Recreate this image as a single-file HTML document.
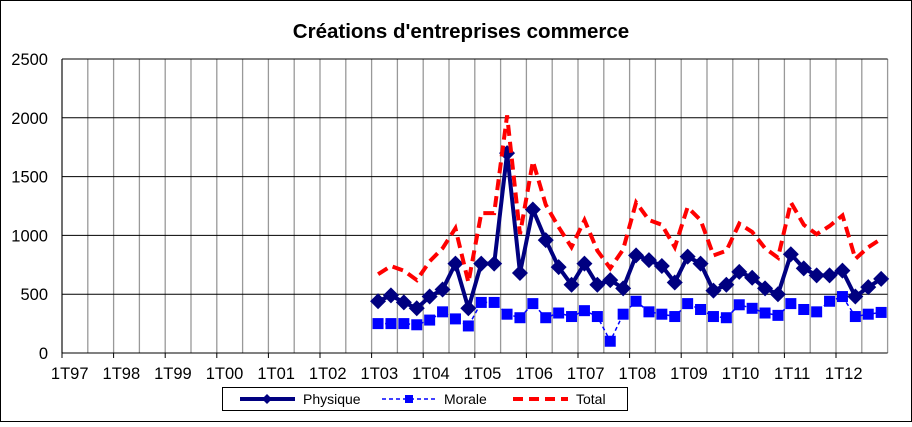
<!DOCTYPE html>
<html><head><meta charset="utf-8"><style>
body{margin:0;background:#fff}
svg text{font-family:"Liberation Sans",Arial,sans-serif}
</style></head><body>
<svg width="912" height="422" xmlns="http://www.w3.org/2000/svg">
<rect x="0.5" y="0.5" width="911" height="421" fill="#fff" stroke="#000"/>
<text x="461" y="38" font-size="20.5" font-weight="bold" text-anchor="middle">Créations d'entreprises commerce</text>
<g id="grid"></g>
<g id="series"></g>
<rect x="222.5" y="387.5" width="405" height="23" fill="#fff" stroke="#000"/>
<line x1="240" y1="399" x2="295" y2="399" stroke="#000080" stroke-width="4"/>
<path d="M267 394 L272 399 L267 404 L262 399Z" fill="#000080"/>
<text x="303" y="404" font-size="14">Physique</text>
<line x1="382" y1="399" x2="436" y2="399" stroke="#0000ff" stroke-width="1.5" stroke-dasharray="4,3"/>
<rect x="405" y="395" width="8" height="8" fill="#0000ff"/>
<text x="444" y="404" font-size="14">Morale</text>
<line x1="513" y1="399" x2="568" y2="399" stroke="#ff0000" stroke-width="4" stroke-dasharray="10,6"/>
<text x="576" y="404" font-size="14">Total</text>
</svg>
<script>
const NS="http://www.w3.org/2000/svg";
const g=document.getElementById('grid'),s=document.getElementById('series');
const x0=62,qw=12.9,y0=353,sc=294/2500;
function el(p,t,a){const e=document.createElementNS(NS,t);for(const k in a)e.setAttribute(k,a[k]);p.appendChild(e);return e;}
for(let i=0;i<=32;i++){const x=x0+i*2*qw;el(g,'line',{x1:x,y1:59,x2:x,y2:y0,stroke:'#999','stroke-width':1.3});}
for(let v=0;v<=2500;v+=500){const y=y0-v*sc;el(g,'line',{x1:x0,y1:y,x2:x0+64*qw,y2:y,stroke:'#000','stroke-width':1});
 const t=el(g,'text',{x:48,y:y+6,'font-size':16.5,'text-anchor':'end'});t.textContent=v;}
el(g,'line',{x1:x0,y1:59,x2:x0,y2:y0,stroke:'#000'});
for(let k=0;k<16;k++){const yr=(97+k)%100;const t=el(g,'text',{x:x0+k*4*qw+qw*0.6,y:379,'font-size':16.5,'text-anchor':'middle'});t.textContent='1T'+String(yr).padStart(2,'0');
 el(g,'line',{x1:x0+k*4*qw,y1:y0,x2:x0+k*4*qw,y2:y0+5,stroke:'#000'});}
const P=[440,490,430,380,480,540,760,380,760,760,1700,680,1220,960,730,580,760,580,620,550,830,790,740,600,820,760,530,580,690,640,550,500,840,720,660,660,700,480,560,630];
const M=[250,250,250,240,280,350,290,230,430,430,330,300,420,300,340,310,360,310,100,330,440,350,330,310,420,370,310,300,410,380,340,320,420,370,350,440,480,310,330,345];
const T=[670,740,700,620,780,890,1060,600,1190,1190,2020,1010,1630,1260,1070,900,1130,870,720,880,1280,1130,1090,900,1240,1130,830,870,1100,1030,890,810,1280,1090,1010,1080,1170,800,900,970];
const X=i=>x0+(24+i+0.5)*qw, Y=v=>y0-v*sc;
const pts=a=>a.map((v,i)=>X(i).toFixed(1)+','+Y(v).toFixed(1)).join(' ');
el(s,'polyline',{points:pts(M),fill:'none',stroke:'#0000ff','stroke-width':1.5,'stroke-dasharray':'4,3'});
M.forEach((v,i)=>el(s,'rect',{x:X(i)-5.5,y:Y(v)-5.5,width:11,height:11,fill:'#0000ff'}));
el(s,'polyline',{points:pts(P),fill:'none',stroke:'#000080','stroke-width':4});
P.forEach((v,i)=>el(s,'path',{d:`M${X(i)} ${Y(v)-8}L${X(i)+8} ${Y(v)}L${X(i)} ${Y(v)+8}L${X(i)-8} ${Y(v)}Z`,fill:'#000080'}));
el(s,'polyline',{points:pts(T),fill:'none',stroke:'#ff0000','stroke-width':4,'stroke-dasharray':'11,6'});
</script>
</body></html>
